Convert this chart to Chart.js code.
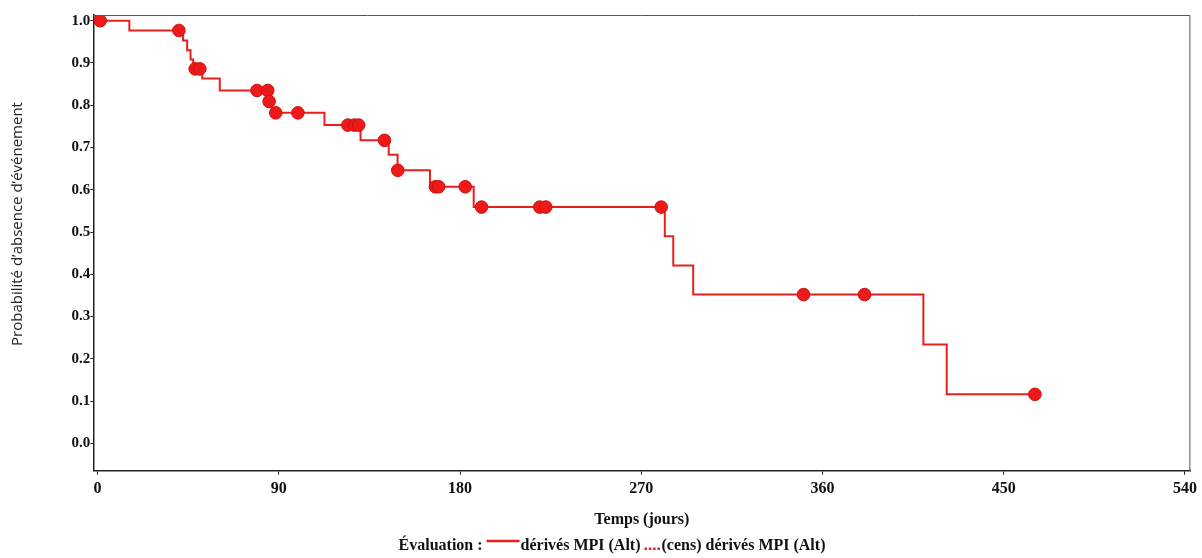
<!DOCTYPE html>
<html><head><meta charset="utf-8">
<script src="https://cdn.jsdelivr.net/npm/chart.js@4.4.1/dist/chart.umd.min.js"></script>
<style>html,body{margin:0;padding:0;background:#fff;overflow:hidden}</style>
</head><body>
<canvas id="c" width="1202" height="558"></canvas>
<script>
// Kaplan-Meier step curve: time of each event and survival after it
const eventDays = [0, 15.8, 42.5, 44.5, 46.2, 47.5, 52, 60.7, 85.5, 86.5, 112.7, 130.6, 144.6, 149, 165.1, 186.8, 281.7, 285.9, 295.8, 410.1, 421.7, 465.5];
const eventSurv = [1.0, 0.977, 0.953, 0.930, 0.908, 0.886, 0.863, 0.835, 0.809, 0.782, 0.753, 0.717, 0.683, 0.646, 0.607, 0.559, 0.490, 0.421, 0.352, 0.234, 0.116, 0.116];
// Censored observations
const censDays = [1.3, 40.4, 48.5, 50.8, 79.2, 84.5, 85.2, 88.5, 99.5, 124.3, 127.6, 129.7, 142.5, 149.1, 167.8, 169.4, 182.6, 190.7, 219.6, 222.6, 279.9, 350.6, 380.9, 465.5];
const censSurv = [1.0, 0.977, 0.886, 0.886, 0.835, 0.835, 0.809, 0.782, 0.782, 0.753, 0.753, 0.753, 0.717, 0.646, 0.607, 0.607, 0.607, 0.559, 0.559, 0.559, 0.559, 0.352, 0.352, 0.116];
const xTicks = [0, 90, 180, 270, 360, 450, 540];
const yTicks = [0.0, 0.1, 0.2, 0.3, 0.4, 0.5, 0.6, 0.7, 0.8, 0.9, 1.0];
const yTitle = "Probabilité d’absence d’événement";
const xTitle = "Temps (jours)";
const legendTitle = "Évaluation :";
const seriesNames = ["dérivés MPI (Alt)", "(cens) dérivés MPI (Alt)"];

const RED = '#e8201c';
const SERIF = '"Liberation Serif", "Times New Roman", serif';

const framePlugin = {
  id: 'frame',
  afterDraw(chart) {
    const {ctx, chartArea: a} = chart;
    ctx.save();
    ctx.strokeStyle = '#555';
    ctx.lineWidth = 1;
    ctx.beginPath();
    ctx.moveTo(a.left, a.top + 0.5);
    ctx.lineTo(a.right - 0.5, a.top + 0.5);
    ctx.lineTo(a.right - 0.5, a.bottom);
    ctx.stroke();
    ctx.restore();
  }
};

const yTitlePlugin = {
  id: 'ytitle',
  afterDraw(chart) {
    const {ctx} = chart;
    const y = chart.scales.y;
    const cy = (y.getPixelForValue(0) + y.getPixelForValue(1)) / 2 - 8;
    ctx.save();
    ctx.translate(18, cy);
    ctx.rotate(-Math.PI / 2);
    ctx.font = '15px "Open Sans", sans-serif';
    ctx.fillStyle = '#222';
    ctx.textAlign = 'center';
    ctx.textBaseline = 'middle';
    ctx.fillText(yTitle, 0, 0);
    ctx.restore();
  }
};

const legendPlugin = {
  id: 'kmlegend',
  afterDraw(chart) {
    const {ctx} = chart;
    ctx.save();
    ctx.font = 'bold 16px ' + SERIF;
    ctx.fillStyle = '#111';
    ctx.textBaseline = 'alphabetic';
    const t0 = legendTitle + ' ';
    const w0 = ctx.measureText(t0).width;
    const w1 = ctx.measureText(seriesNames[0]).width;
    const w2 = ctx.measureText(seriesNames[1]).width;
    const lineW = 33, dotsW = 17;
    const total = w0 + lineW + 1 + w1 + 4 + dotsW + w2;
    let x = 612 - total / 2;
    const by = 550;
    ctx.fillText(t0, x, by); x += w0;
    ctx.strokeStyle = RED; ctx.lineWidth = 2.5;
    ctx.beginPath(); ctx.moveTo(x, by - 9); ctx.lineTo(x + lineW, by - 9); ctx.stroke();
    x += lineW + 1;
    ctx.fillText(seriesNames[0], x, by); x += w1 + 4;
    ctx.fillStyle = RED;
    for (let i = 0; i < 4; i++) ctx.fillRect(x + i * 4.3, by - 2.5, 2.5, 2.5);
    x += dotsW;
    ctx.fillStyle = '#111';
    ctx.fillText(seriesNames[1], x, by);
    ctx.restore();
  }
};

const stepData = eventDays.map((d, i) => ({x: d, y: eventSurv[i]}));
const censData = censDays.map((d, i) => ({x: d, y: censSurv[i]}));

new Chart(document.getElementById('c'), {
  type: 'line',
  data: {
    datasets: [
      {
        label: seriesNames[1],
        data: censData,
        showLine: false,
        pointRadius: 6.3,
        pointBackgroundColor: '#ee1a1a',
        pointBorderColor: '#d01010',
        pointBorderWidth: 1
      },
      {
        label: seriesNames[0],
        data: stepData,
        stepped: true,
        borderColor: RED,
        borderWidth: 2,
        pointRadius: 0,
        fill: false
      }
    ]
  },
  options: {
    responsive: false,
    devicePixelRatio: 1,
    animation: false,
    events: [],
    layout: {padding: {left: 0, right: 9.3, top: 15, bottom: 27.3}},
    plugins: {legend: {display: false}, tooltip: {enabled: false}},
    scales: {
      x: {
        type: 'linear',
        min: -2.1,
        max: 542.7,
        afterBuildTicks(s) { s.ticks = xTicks.map(v => ({value: v})); },
        afterFit(s) { s.height = 60; },
        grid: {display: true, drawOnChartArea: false, drawTicks: true, tickLength: 4, color: '#222'},
        border: {display: true, color: '#222', width: 1.5},
        ticks: {color: '#111', padding: 5, maxRotation: 0, font: {family: SERIF, size: 16, weight: 'bold'},
          callback: v => String(v)},
        title: {display: true, text: xTitle, color: '#111', padding: {top: 0, bottom: 1},
          font: {family: SERIF, size: 16, weight: 'bold'}}
      },
      y: {
        type: 'linear',
        min: -0.0648,
        max: 1.0135,
        afterBuildTicks(s) { s.ticks = yTicks.map(v => ({value: v})); },
        afterFit(s) { s.width = 93.3; },
        grid: {display: true, drawOnChartArea: false, drawTicks: true, tickLength: 3, color: '#222'},
        border: {display: true, color: '#222', width: 1.5},
        ticks: {color: '#111', padding: 0, font: {family: SERIF, size: 15, weight: 'bold'},
          callback: v => Number(v).toFixed(1)},
        title: {display: false}
      }
    }
  },
  plugins: [framePlugin, yTitlePlugin, legendPlugin]
});
</script>
</body></html>
